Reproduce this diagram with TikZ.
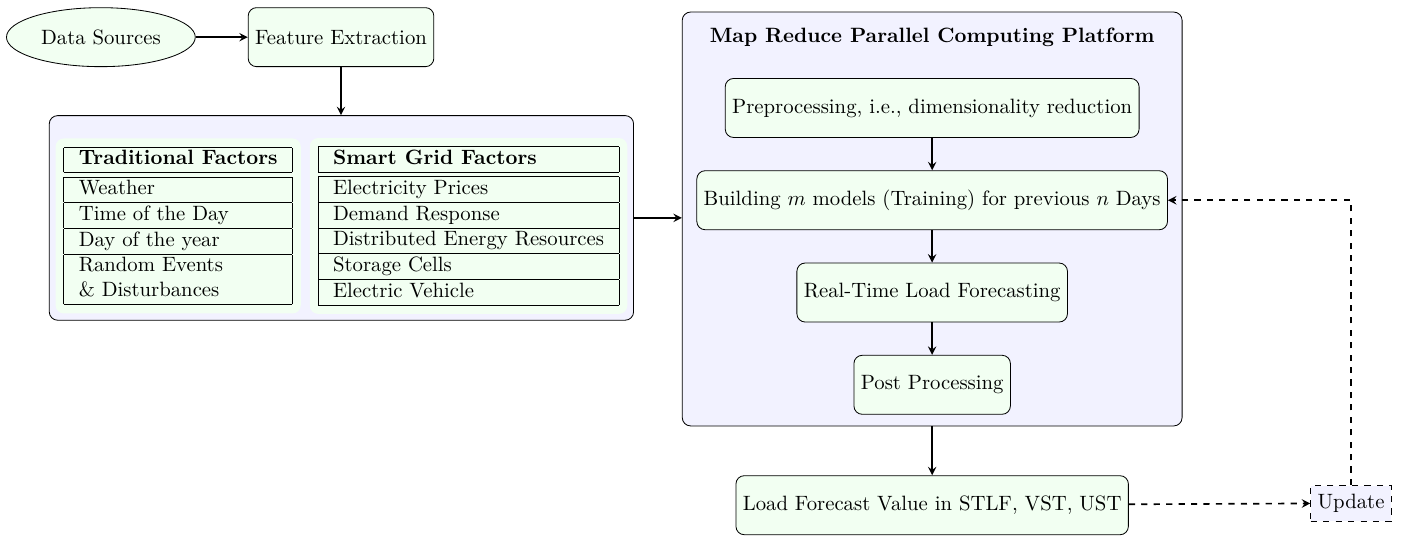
\documentclass[tikz,border=0pt]{standalone}
\usepackage{amsmath}
\usepackage{xcolor}
\usepackage{tikz}
\usetikzlibrary{positioning,fit,calc,backgrounds,shapes.geometric}
\setlength{\tabcolsep}{7.2pt}

\begin{document}
\begin{tikzpicture}[
        stepbox/.style={draw,rounded corners,fill=green!5,minimum height=1cm},
        srcnode/.style={draw,ellipse,fill=green!5,minimum height=1cm},
        panel/.style={fill=green!5,rounded corners,inner sep=4pt},
        platformbox/.style={draw,rounded corners,fill=blue!5},
        flow/.style={->,-stealth,thick},
        updateline/.style={->,-stealth,thick,dashed}
    ]
        \useasboundingbox (0,0) rectangle (23.95,-9.07);

        \node[srcnode] (datasrc) at (1.71,-0.63) {Data Sources};
        \node[stepbox] (featext) at (5.78,-0.63) {Feature Extraction};

        \node[panel] (trad) at (3.02,-3.83) {\begin{tabular}{|l|}\hline \textbf{Traditional Factors}\\\hline\hline Weather\\\hline Time of the Day\\\hline Day of the year\\\hline Random Events\\ \& Disturbances\\\hline\end{tabular}};
        \node[panel,right=0.14cm of trad] (smart) {\begin{tabular}{|l|}\hline \textbf{Smart Grid Factors}\\\hline\hline Electricity Prices\\\hline Demand Response\\\hline Distributed Energy Resources\\\hline Storage Cells\\\hline Electric Vehicle\\\hline\end{tabular}};
        \coordinate (factop) at ($(trad.north)+(0,0.28)$);
        \begin{scope}[on background layer]
            \node[platformbox,fit=(trad)(smart)(factop),inner sep=0.1cm] (factors) {};
        \end{scope}

        \node[font=\bfseries,inner sep=2pt] (ptitle) at (15.8,-0.63) {Map Reduce Parallel Computing Platform};
        \node[stepbox] (prep) at (15.8,-1.83) {Preprocessing, i.e., dimensionality reduction};
        \node[stepbox,below=0.55cm of prep] (train) {Building $m$ models (Training) for previous $n$ Days};
        \node[stepbox,below=0.55cm of train] (rtlf) {Real-Time Load Forecasting};
        \node[stepbox,below=0.55cm of rtlf] (post) {Post Processing};
        \begin{scope}[on background layer]
            \node[platformbox,fit=(ptitle)(prep)(train)(rtlf)(post),inner xsep=0.24cm,inner ysep=0.19cm] (platform) {};
        \end{scope}

        \node[stepbox,below=0.83cm of platform] (loadfc) {Load Forecast Value in STLF, VST, UST};
        \node[draw,dashed,fill=blue!5,minimum height=0.6cm] (update) at (22.9,-8.53) {Update};

        \draw[flow] (datasrc) -- (featext);
        \draw[flow] (featext.south) -- (featext.south |- factors.north);
        \draw[flow] (factors.east) -- (factors.east -| platform.west);
        \draw[flow] (prep) -- (train);
        \draw[flow] (train) -- (rtlf);
        \draw[flow] (rtlf) -- (post);
        \draw[flow] (platform) -- (loadfc);
        \draw[updateline] (loadfc) -- (update);
        \draw[updateline] (update) |- (train);
    \end{tikzpicture}
\end{document}
